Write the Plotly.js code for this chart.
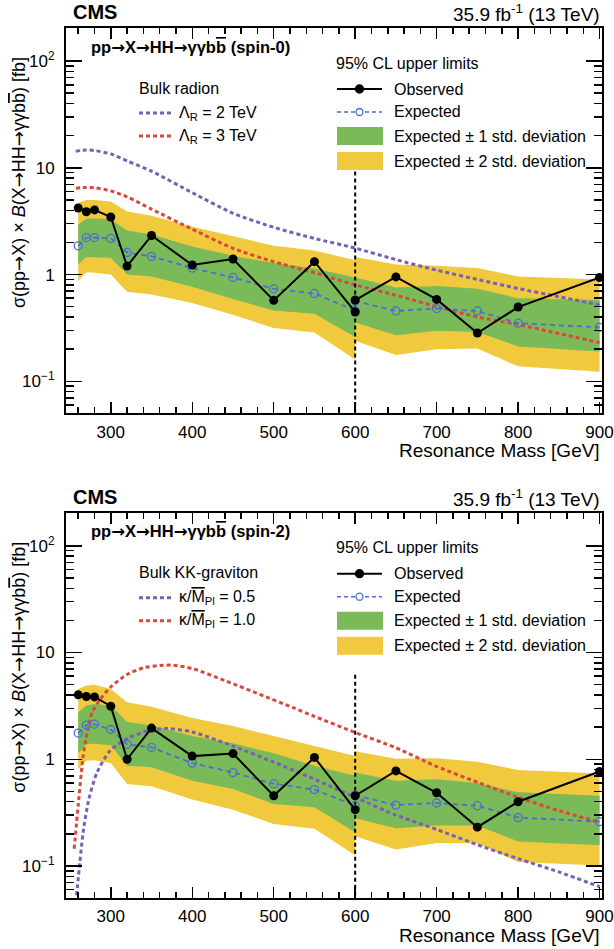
<!DOCTYPE html>
<html>
<head>
<meta charset="utf-8">
<script src="https://cdn.plot.ly/plotly-3.0.1.min.js"></script>
<style>html,body{margin:0;padding:0;background:#fff}#chart{width:614px;height:949px}</style>
</head>
<body>
<div id="chart"></div>
<script>
// ---------------- data ----------------
const massLow  = [260,270,280,300,320,350,400,450,500,550,600];
const massHigh = [600,650,700,750,800,900];

// spin-0
const obs0Low  = [4.2,3.88,4.03,3.46,1.20,2.32,1.23,1.40,0.573,1.32,0.446];
const obs0High = [0.577,0.95,0.585,0.283,0.496,0.938];
const exp0Low  = [1.86,2.22,2.22,2.18,1.61,1.48,1.15,0.94,0.735,0.665,0.46];
const exp0High = [0.565,0.456,0.48,0.456,0.35,0.32];
const up2_0Low = [4.7,4.99,5.0,4.84,3.9,3.56,2.81,2.27,1.86,1.68,1.36];
const up1_0Low = [2.94,3.34,3.35,3.3,2.58,2.37,1.83,1.50,1.28,1.14,0.94];
const dn1_0Low = [1.25,1.46,1.46,1.44,1.0,0.96,0.77,0.59,0.46,0.43,0.26];
const dn2_0Low = [0.87,1.05,1.04,1.0,0.69,0.65,0.54,0.42,0.315,0.286,0.16];
const up2_0High = [1.46,1.24,1.21,1.15,0.96,0.90];
const up1_0High = [0.94,0.757,0.78,0.735,0.60,0.577];
const dn1_0High = [0.355,0.27,0.297,0.29,0.212,0.19];
const dn2_0High = [0.24,0.176,0.20,0.203,0.138,0.123];
const radionMass = [257,270,280,300,320,350,400,450,500,550,600,650,700,750,800,850,900];
const radion2TeV = [14.3,14.7,14.5,13.5,11.6,9.3,5.85,3.75,2.77,2.18,1.77,1.38,1.10,0.90,0.74,0.62,0.52];
const radion3TeV = [6.45,6.55,6.5,6.08,5.35,4.1,2.66,1.76,1.32,1.04,0.80,0.64,0.50,0.40,0.34,0.28,0.23];

// spin-2
const obs2Low  = [4.01,3.87,3.84,3.14,1.0,1.96,1.07,1.13,0.455,1.04,0.337];
const obs2High = [0.455,0.778,0.485,0.231,0.40,0.768];
const exp2Low  = [1.76,2.09,2.13,1.90,1.38,1.29,0.92,0.75,0.59,0.52,0.367];
const exp2High = [0.46,0.372,0.389,0.367,0.284,0.26];
const up2_2Low = [4.56,4.9,5.0,4.56,3.42,3.1,2.43,2.05,1.65,1.33,1.07];
const up1_2Low = [2.76,3.19,3.28,3.19,2.23,2.07,1.65,1.41,1.14,0.87,0.70];
const dn1_2Low = [1.14,1.39,1.4,1.35,0.87,0.84,0.63,0.525,0.38,0.355,0.207];
const dn2_2Low = [0.81,0.97,0.98,0.92,0.585,0.56,0.42,0.337,0.248,0.223,0.126];
const up2_2High = [1.19,1.01,1.02,0.945,0.795,0.735];
const up1_2High = [0.75,0.63,0.65,0.60,0.49,0.455];
const dn1_2High = [0.28,0.226,0.239,0.239,0.17,0.156];
const dn2_2High = [0.19,0.143,0.164,0.163,0.109,0.101];
const grav10Mass = [255,260,266,271,277,287,299,320,340,360,377,400,442,483,524,549,600,650,700,750,800,850,900];
const grav10 = [0.145,0.37,1.07,1.78,2.73,3.64,4.68,6.23,7.19,7.56,7.6,7.08,5.39,4.05,3.04,2.54,1.78,1.28,0.855,0.61,0.44,0.33,0.257];
const grav05Mass = [258,262,266,273,283,299,320,348,369,400,450,500,550,600,650,700,750,800,850,900];
const grav05 = [0.053,0.108,0.206,0.42,0.75,1.20,1.56,1.87,1.94,1.80,1.33,0.94,0.65,0.44,0.30,0.22,0.158,0.117,0.088,0.064];

// boundary between low- and high-mass analyses
const boundaryMass = 600;
const boundaryTop0 = 12.5;
const boundaryTop2 = 6.2;
const axisFloor = 0.03;

// tick labels / texts
const xTicks = [300,400,500,600,700,800,900];
const yTicks = [0.1,1,10,100];
const yTickText = ['10<sup>\u22121</sup>','1','10','10<sup>2</sup>'];
const yMinor = [0.06,0.07,0.08,0.09,0.2,0.3,0.4,0.5,0.6,0.7,0.8,0.9,2,3,4,5,6,7,8,9,20,30,40,50,60,70,80,90,200];
const AR = '<span style="font-family:DejaVu Sans">\u2192</span>';
const BBAR = 'b<span style="text-decoration:overline">b</span>';
const MBAR = '<span style="text-decoration:overline">M</span>';
const limitLabels = ['95% CL upper limits','Observed','Expected','Expected \u00b1 1 std. deviation','Expected \u00b1 2 std. deviation'];
const panelTitles = ['pp'+AR+'X'+AR+'HH'+AR+'\u03b3\u03b3'+BBAR+' (spin-0)','pp'+AR+'X'+AR+'HH'+AR+'\u03b3\u03b3'+BBAR+' (spin-2)'];
const theoryHeaders = ['Bulk radion','Bulk KK-graviton'];
const theoryLabels0 = ['\u039b<sub>R</sub> = 2 TeV','\u039b<sub>R</sub> = 3 TeV'];
const theoryLabels2 = ['\u03ba/'+MBAR+'<sub>Pl</sub> = 0.5','\u03ba/'+MBAR+'<sub>Pl</sub> = 1.0'];
const yTitle = '\u03c3(pp'+AR+'X) \u00d7 <i>B</i>(X'+AR+'HH'+AR+'\u03b3\u03b3'+BBAR+') [fb]';
const xTitle = 'Resonance Mass [GeV]';

// ---------------- style ----------------
const FONT = 'Liberation Sans, Arial, Helvetica, sans-serif';
const C = {green:'#7bba59', yellow:'#f1c93d', purple:'#7b5fb4', red:'#d9483a', blue:'#4a6fd2'};

function band(x, up, dn, color, xa, ya){
  return {x: x.concat(x.slice().reverse()), y: up.concat(dn.slice().reverse()),
    type:'scatter', mode:'lines', fill:'toself', fillcolor:color, line:{width:0, color:color},
    hoverinfo:'skip', showlegend:false, xaxis:xa, yaxis:ya};
}
function theory(x, y, color, xa, ya){
  return {x:x, y:y, type:'scatter', mode:'lines', line:{color:color, width:3, dash:'4px,3px', shape:'spline', smoothing:0.7},
    showlegend:false, xaxis:xa, yaxis:ya};
}
function expected(x, y, xa, ya){
  return {x:x, y:y, type:'scatter', mode:'lines+markers', line:{color:C.blue, width:1.8, dash:'5px,4px'},
    marker:{symbol:'circle-open', size:8, color:C.blue, line:{width:1.3, color:C.blue}}, showlegend:false, xaxis:xa, yaxis:ya};
}
function observed(x, y, xa, ya){
  return {x:x, y:y, type:'scatter', mode:'lines+markers', line:{color:'black', width:2},
    marker:{symbol:'circle', size:9, color:'black'}, showlegend:false, xaxis:xa, yaxis:ya};
}
function boundary(top, xa, ya){
  return {x:[boundaryMass,boundaryMass], y:[top,axisFloor], type:'scatter', mode:'lines',
    line:{color:'black', width:2, dash:'4px,3px'}, showlegend:false, xaxis:xa, yaxis:ya};
}
function panelTraces(xa, ya, d){
  return [
    band(massLow, d.up2L, d.dn2L, C.yellow, xa, ya), band(massHigh, d.up2H, d.dn2H, C.yellow, xa, ya),
    band(massLow, d.up1L, d.dn1L, C.green, xa, ya), band(massHigh, d.up1H, d.dn1H, C.green, xa, ya),
    theory(d.thAx, d.thA, C.purple, xa, ya), theory(d.thBx, d.thB, C.red, xa, ya),
    boundary(d.bTop, xa, ya),
    expected(massLow, d.expL, xa, ya), expected(massHigh, d.expH, xa, ya),
    observed(massLow, d.obsL, xa, ya), observed(massHigh, d.obsH, xa, ya)
  ];
}
const traces = [].concat(
  panelTraces('x','y',{up2L:up2_0Low,dn2L:dn2_0Low,up2H:up2_0High,dn2H:dn2_0High,up1L:up1_0Low,dn1L:dn1_0Low,up1H:up1_0High,dn1H:dn1_0High,
    thAx:radionMass,thA:radion2TeV,thBx:radionMass,thB:radion3TeV,bTop:boundaryTop0,expL:exp0Low,expH:exp0High,obsL:obs0Low,obsH:obs0High}),
  panelTraces('x2','y2',{up2L:up2_2Low,dn2L:dn2_2Low,up2H:up2_2High,dn2H:dn2_2High,up1L:up1_2Low,dn1L:dn1_2Low,up1H:up1_2High,dn1H:dn1_2High,
    thAx:grav05Mass,thA:grav05,thBx:grav10Mass,thB:grav10,bTop:boundaryTop2,expL:exp2Low,expH:exp2High,obsL:obs2Low,obsH:obs2High})
);

// ---------------- layout ----------------
const M = {l:66, r:12, t:28, b:51};
const W = 614, H = 949, PW = W-M.l-M.r, PH = H-M.t-M.b;
const panelTop = [28, 512.7];
const panelBottom = [413.3, 898];
const px = v => (v-M.l)/PW;
const py = v => (H-M.b-v)/PH;

function xaxisDef(anchor){
  return {anchor:anchor, domain:[0,1], range:[245,903], tickmode:'array', tickvals:xTicks,
    ticks:'inside', ticklen:11, tickwidth:1.5, tickcolor:'black', mirror:'allticks',
    showline:true, linewidth:2, linecolor:'black', showgrid:false, zeroline:false,
    minor:{ticks:'inside', tickmode:'linear', tick0:0, dtick:20, ticklen:6, tickwidth:1.5, tickcolor:'black', showgrid:false},
    tickfont:{size:17, color:'black', family:FONT}, ticklabelstandoff:2};
}
function yaxisDef(anchor, dom){
  return {anchor:anchor, type:'log', domain:dom, range:[-1.30,2.31], tickmode:'array', tickvals:yTicks, ticktext:yTickText,
    ticks:'inside', ticklen:16, tickwidth:1.5, tickcolor:'black', mirror:'allticks',
    showline:true, linewidth:2, linecolor:'black', showgrid:false, zeroline:false,
    minor:{ticks:'inside', tickmode:'array', tickvals:yMinor, ticklen:8, tickwidth:1.5, tickcolor:'black', showgrid:false},
    tickfont:{size:17, color:'black', family:FONT}, ticklabelstandoff:6};
}

const shapes = [], annotations = [];
function txt(text, x, y, opts){
  annotations.push(Object.assign({text:text, x:x, y:y, xref:'paper', yref:'paper', showarrow:false,
    xanchor:'left', yanchor:'middle', font:{size:16, color:'black', family:FONT}}, opts||{}));
}
function hline(x0, x1, y, color, width, dash){
  shapes.push({type:'line', xref:'paper', yref:'paper', x0:px(x0), x1:px(x1), y0:py(y), y1:py(y), line:{color:color, width:width, dash:dash}});
}
function circ(cx, cy, r, fill, color){
  shapes.push({type:'circle', xref:'paper', yref:'paper', x0:px(cx-r), x1:px(cx+r), y0:py(cy+r), y1:py(cy-r),
    fillcolor:fill, line:{color:color, width:1.3}});
}
function box(x0, x1, y0, y1, color){
  shapes.push({type:'rect', xref:'paper', yref:'paper', x0:px(x0), x1:px(x1), y0:py(y1), y1:py(y0), fillcolor:color, line:{width:0}});
}

[0,1].forEach(i => {
  const T = panelTop[i];
  const thLabels = i===0 ? theoryLabels0 : theoryLabels2;
  // header
  txt('<b>CMS</b>', px(71), py(T-16), {font:{size:20, color:'black', family:FONT}});
  txt('35.9 fb<sup>-1</sup> (13 TeV)', 1, py(T-15), {xanchor:'right', font:{size:19, color:'black', family:FONT}});
  // in-panel title
  txt('<b>'+panelTitles[i]+'</b>', px(190), py(T+19), {xanchor:'center', font:{size:16.5, color:'black', family:FONT}});
  // theory legend
  txt(theoryHeaders[i], px(137), py(T+60));
  hline(139, 172, T+85, C.purple, 3, '4px,3px');
  txt(thLabels[0], px(177), py(T+85));
  hline(139, 172, T+108, C.red, 3, '4px,3px');
  txt(thLabels[1], px(177), py(T+108));
  // limits legend
  txt(limitLabels[0], px(334), py(T+35));
  hline(337, 382, T+61, 'black', 2, 'solid');
  circ(359.5, T+61, 4, 'black', 'black');
  txt(limitLabels[1], px(392), py(T+61));
  hline(337, 382, T+84, C.blue, 1.5, '4px,3px');
  circ(359.5, T+84, 3.5, 'white', C.blue);
  txt(limitLabels[2], px(392), py(T+84));
  box(337, 383, T+99, T+117, C.green);
  txt(limitLabels[3], px(392), py(T+108));
  box(337, 383, T+124, T+142, C.yellow);
  txt(limitLabels[4], px(392), py(T+133));
  // axis titles
  txt(xTitle, 1, py(panelBottom[i]+37), {xanchor:'right', font:{size:19, color:'black', family:FONT}});
  txt(yTitle, px(19), py(T+155), {xanchor:'center', yanchor:'middle', textangle:-90,
    font:{size:18, color:'black', family:FONT}});
});

const layout = {
  width:W, height:H, margin:M, paper_bgcolor:'white', plot_bgcolor:'white', showlegend:false,
  font:{family:FONT, color:'black'},
  xaxis:xaxisDef('y'), yaxis:yaxisDef('x',[py(panelBottom[0]),1]),
  xaxis2:xaxisDef('y2'), yaxis2:yaxisDef('x2',[0,py(panelTop[1])]),
  shapes:shapes, annotations:annotations
};
Plotly.newPlot('chart', traces, layout, {staticPlot:true, displayModeBar:false});
</script>
</body>
</html>
